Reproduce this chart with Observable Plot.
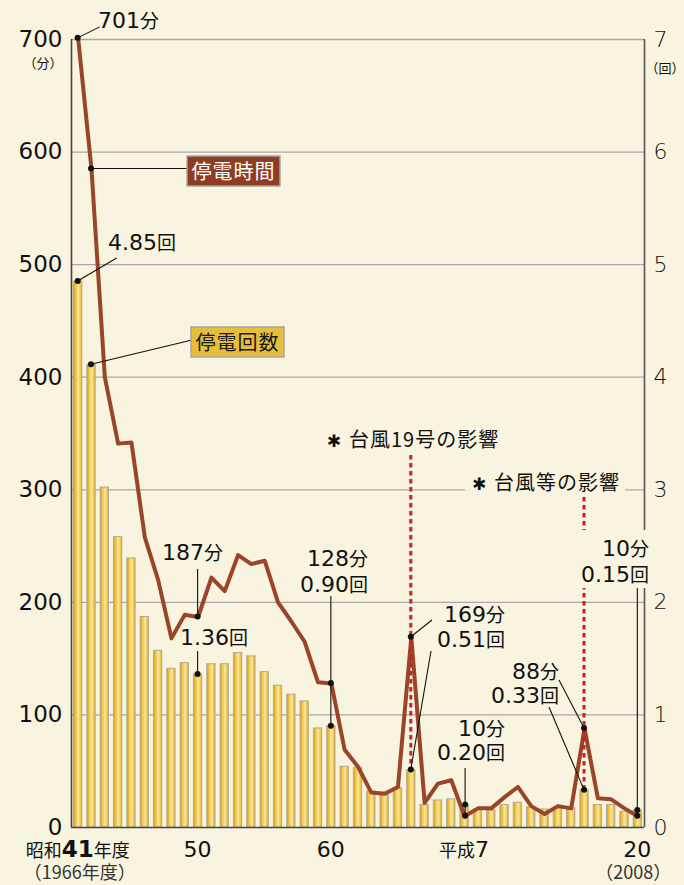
<!DOCTYPE html>
<html>
<head>
<meta charset="utf-8">
<script src="https://cdn.jsdelivr.net/npm/d3@7"></script>
<script src="https://cdn.jsdelivr.net/npm/@observablehq/plot@0.6"></script>
<style>
  html, body { margin: 0; padding: 0; background: #f8f4df; }
  #chart svg { display: block; }
  .num { font-family: "DejaVu Sans", sans-serif; font-size: 22px; }
  .numb { font-family: "DejaVu Sans", sans-serif; font-size: 23px; font-weight: bold; }
  .cjk { font-family: "Noto Sans CJK JP", sans-serif; font-size: 19px; }
  .cjkl { font-family: "Noto Sans CJK JP", sans-serif; font-size: 20px; }
  .cjks { font-family: "Noto Sans CJK JP", sans-serif; font-size: 18px; }
  .small { font-family: "Noto Sans CJK JP", sans-serif; font-size: 13px; }
  .star { font-family: "DejaVu Sans", sans-serif; font-size: 17px; font-weight: bold; }
</style>
</head>
<body>
<div id="chart"></div>
<script>
// ---- data ----
const years = [1966,1967,1968,1969,1970,1971,1972,1973,1974,1975,
               1976,1977,1978,1979,1980,1981,1982,1983,1984,1985,
               1986,1987,1988,1989,1990,1991,1992,1993,1994,1995,
               1996,1997,1998,1999,2000,2001,2002,2003,2004,2005,
               2006,2007,2008];
// 停電時間 (分) – left axis
const outageMinutes = [701,585,400,341,342,258,220,168,189,187,
                       222,210,242,234,237,200,183,165,129,128,
                       69,54,31,30,36,169,22,39,42,10,
                       17,17,27,36,19,12,19,17,88,26,
                       25,17,10];
// 停電回数 (回) – right axis
const outageCount = [4.85,4.11,3.02,2.58,2.39,1.87,1.57,1.41,1.46,1.36,
                     1.45,1.45,1.55,1.52,1.38,1.26,1.18,1.12,0.88,0.90,
                     0.54,0.53,0.32,0.31,0.35,0.51,0.20,0.24,0.25,0.20,
                     0.16,0.15,0.20,0.22,0.18,0.16,0.17,0.17,0.33,0.20,
                     0.20,0.14,0.15];
const leftTicks = [0,100,200,300,400,500,600,700];
const rightTicks = [0,1,2,3,4,5,6,7];
const xTickLabels = [
  {year: 1966, parts: [["昭和","cjks"],["41","numb"],["年度","cjks"]], sub: "（1966年度）"},
  {year: 1975, parts: [["50","num"]]},
  {year: 1985, parts: [["60","num"]]},
  {year: 1995, parts: [["平成","cjks"],["7","num"]]},
  {year: 2008, parts: [["20","num"]], sub: "（2008）"}
];
// annotated points: year, minutes label, count label
const callouts = [
  {year: 1966, min: 701, cnt: 4.85},
  {year: 1975, min: 187, cnt: 1.36},
  {year: 1985, min: 128, cnt: 0.90},
  {year: 1991, min: 169, cnt: 0.51},
  {year: 1995, min: 10,  cnt: 0.20},
  {year: 2004, min: 88,  cnt: 0.33},
  {year: 2008, min: 10,  cnt: 0.15}
];

const data = years.map((year, i) => ({year, minutes: outageMinutes[i], count: outageCount[i]}));
const BG = "#f8f4df";

const plot = Plot.plot({
  width: 684,
  height: 885,
  marginTop: 39,
  marginBottom: 58,
  marginLeft: 71,
  marginRight: 40,
  style: {background: BG, color: "#111", fontFamily: "DejaVu Sans, sans-serif"},
  x: {type: "linear", domain: [1965.5, 2008.5], axis: null},
  y: {domain: [0, 700], axis: null},
  marks: [
    Plot.ruleY(leftTicks.filter(d => d > 0), {stroke: "#a8a8a8", strokeWidth: 1.3}),
    Plot.rectY(data, {
      x1: d => d.year - 0.31, x2: d => d.year + 0.31,
      y: d => d.count * 100,
      fill: "url(#barGrad)", stroke: "#b3aa92", strokeWidth: 1
    }),
    Plot.line(data, {x: "year", y: "minutes", stroke: "#9a4428", strokeWidth: 4, strokeLinejoin: "round"}),
    Plot.ruleX([1965.5], {stroke: "#444", strokeWidth: 1.6}),
    Plot.ruleX([2008.5], {stroke: "#555", strokeWidth: 1.6}),
    Plot.ruleY([0], {stroke: "#444", strokeWidth: 1.6}),
    Plot.axisY({anchor: "left", label: null, ticks: leftTicks, tickSize: 0, tickPadding: 9,
      fontSize: 23, fontFamily: "DejaVu Sans", tickFormat: d => String(d)}),
    Plot.axisY({anchor: "right", label: null, ticks: rightTicks.map(d => d * 100), tickSize: 0, tickPadding: 9,
      fontSize: 22, fontFamily: "DejaVu Sans", fontWeight: 300, tickFormat: d => String(d / 100)})
  ]
});

const svg = d3.select(plot);
const defs = svg.insert("defs", ":first-child");
const grad = defs.append("linearGradient").attr("id", "barGrad")
  .attr("x1", "0").attr("x2", "1").attr("y1", "0").attr("y2", "0");
[[0, "#d6a020"], [0.28, "#efc445"], [0.58, "#fde79c"], [0.85, "#f0c54a"], [1, "#d8a326"]]
  .forEach(([o, c]) => grad.append("stop").attr("offset", o).attr("stop-color", c));

const sx = plot.scale("x"), sy = plot.scale("y");
const X = v => sx.apply(v), Y = v => sy.apply(v);
const g = svg.append("g").attr("fill", "#111");

function text(x, y, parts, anchor = "start", extra = {}) {
  const t = g.append("text").attr("x", x).attr("y", y).attr("text-anchor", anchor);
  for (const k in extra) t.attr(k, extra[k]);
  parts.forEach(([s, cls]) => t.append("tspan").attr("class", cls).text(s));
  return t;
}
function leader(x1, y1, x2, y2) {
  g.append("line").attr("x1", x1).attr("y1", y1).attr("x2", x2).attr("y2", y2)
    .attr("stroke", "#111").attr("stroke-width", 1.1);
}
function dot(x, y) {
  g.append("circle").attr("cx", x).attr("cy", y).attr("r", 3).attr("fill", "#111");
}
function bg(x, y, w, h) {
  g.append("rect").attr("x", x).attr("y", y).attr("width", w).attr("height", h).attr("fill", BG);
}
function redDots(x, y1, y2) {
  g.append("line").attr("x1", x).attr("x2", x).attr("y1", y1).attr("y2", y2)
    .attr("stroke", "#c81f2a").attr("stroke-width", 3).attr("stroke-dasharray", "4.5 3.5");
}
const cp = Object.fromEntries(callouts.map(c => [c.year, {
  x: X(c.year), yl: Y(c.min), yb: Y(c.cnt * 100), c}]));

// typhoon notes
text(413, 447, [["✱ ", "star"], ["台風19号の影響", "cjkl"]], "middle", {"letter-spacing": 1});
redDots(cp[1991].x, 455, cp[1991].yb);
bg(465, 474, 160, 22);
text(546, 490, [["✱ ", "star"], ["台風等の影響", "cjkl"]], "middle", {"letter-spacing": 1});
redDots(cp[2004].x, 497, cp[2004].yb);

// series labels
const l67 = {x: X(1967), yl: Y(outageMinutes[1]), yb: Y(outageCount[1] * 100)};
leader(l67.x, l67.yl, 187, l67.yl);
dot(l67.x, l67.yl);
g.append("rect").attr("x", 187).attr("y", 156).attr("width", 93).attr("height", 30)
  .attr("fill", "#8e3d24").attr("stroke", "#a5a5a5").attr("stroke-width", 1.5);
text(233.5, 179, [["停電時間", "cjkl"]], "middle", {fill: "#fff", "letter-spacing": 1});
leader(l67.x, l67.yb, 192, 340);
dot(l67.x, l67.yb);
g.append("rect").attr("x", 191).attr("y", 327).attr("width", 93).attr("height", 30)
  .attr("fill", "#e6be3c").attr("stroke", "#a5a5a5").attr("stroke-width", 1.5);
text(237.5, 350, [["停電回数", "cjkl"]], "middle", {fill: "#1a1a1a", "letter-spacing": 1});

// 1966
let p = cp[1966];
leader(p.x, p.yl, p.x + 22, p.yl - 11); dot(p.x, p.yl);
text(98, 28, [[String(p.c.min), "num"], ["分", "cjk"]], "start");
leader(p.x, p.yb, p.x + 39, p.yb - 23); dot(p.x, p.yb);
text(108, 250, [[p.c.cnt.toFixed(2), "num"], ["回", "cjk"]]);

// 1975
p = cp[1975];
leader(p.x, p.yl, p.x, 569); dot(p.x, p.yl);
text(162, 560, [[String(p.c.min), "num"], ["分", "cjk"]]);
leader(p.x, p.yb, p.x, 651); dot(p.x, p.yb);
text(180, 645, [[p.c.cnt.toFixed(2), "num"], ["回", "cjk"]]);

// 1985
p = cp[1985];
leader(p.x, 596, p.x, p.yb); dot(p.x, p.yl); dot(p.x, p.yb);
text(368, 566, [[String(p.c.min), "num"], ["分", "cjk"]], "end");
text(368, 592, [[p.c.cnt.toFixed(2), "num"], ["回", "cjk"]], "end");

// 1991
p = cp[1991];
leader(p.x, p.yl, 432, 620); dot(p.x, p.yl);
leader(p.x, p.yb, 431, 651); dot(p.x, p.yb);
text(505, 622, [[String(p.c.min), "num"], ["分", "cjk"]], "end");
text(505, 647, [[p.c.cnt.toFixed(2), "num"], ["回", "cjk"]], "end");

// 1995
p = cp[1995];
leader(p.x + 1, 768, p.x + 1, p.yl); dot(p.x + 1, p.yl); dot(p.x + 1, p.yb);
text(505, 736, [[String(p.c.min), "num"], ["分", "cjk"]], "end");
text(505, 760, [[p.c.cnt.toFixed(2), "num"], ["回", "cjk"]], "end");

// 2004
p = cp[2004];
leader(559, 680, p.x, p.yl); dot(p.x, p.yl);
leader(549, 707, p.x, p.yb); dot(p.x, p.yb);
text(559, 679, [[String(p.c.min), "num"], ["分", "cjk"]], "end");
text(559, 703, [[p.c.cnt.toFixed(2), "num"], ["回", "cjk"]], "end");

// 2008
p = cp[2008];
bg(566, 530, 84, 58);
leader(p.x, 588, p.x, p.yl); dot(p.x, p.yl); dot(p.x, p.yb);
text(649, 556, [[String(p.c.min), "num"], ["分", "cjk"]], "end");
text(649, 582, [[p.c.cnt.toFixed(2), "num"], ["回", "cjk"]], "end");

// axis unit labels
text(43, 68, [["（分）", "small"]], "middle");
text(665, 73, [["（回）", "small"]], "middle", {"font-size": 15});

// x tick labels
xTickLabels.forEach(d => {
  text(X(d.year), 857, d.parts, "middle");
  if (d.sub) text(X(d.year) + (d.year === 2008 ? -4 : 2), 879, [[d.sub, "cjks"]], "middle",
    {"font-size": d.year === 2008 ? 14 : 15, fill: "#333"});
});

document.getElementById("chart").appendChild(plot);
</script>
</body>
</html>
